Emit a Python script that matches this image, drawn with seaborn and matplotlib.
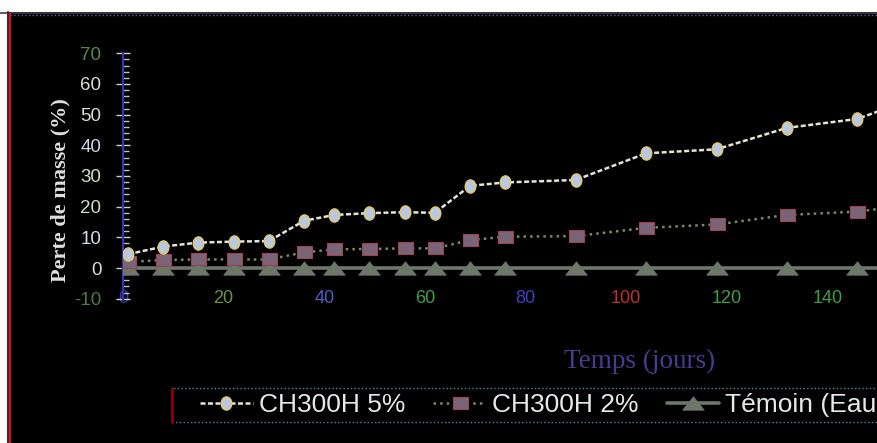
import matplotlib
matplotlib.use("Agg")
import matplotlib.pyplot as plt
import seaborn as sns
from matplotlib.path import Path
from matplotlib.transforms import Affine2D
from matplotlib.patches import Rectangle
from matplotlib.lines import Line2D
from matplotlib.ticker import MultipleLocator

# Data (jours, perte de masse en %)
jours = [1, 8, 15, 22, 29, 36, 42, 49, 56, 62, 69, 76, 90, 104, 118, 132, 146, 160]
ch300h_5 = [4.5, 7.0, 8.3, 8.6, 8.8, 15.4, 17.3, 17.9, 18.2, 18.0, 26.8, 27.9,
            28.7, 37.4, 38.7, 45.7, 48.6, 57.0]
ch300h_2 = [2.0, 2.6, 2.8, 2.8, 2.8, 5.1, 6.1, 6.2, 6.4, 6.4, 9.1, 10.2,
            10.4, 13.1, 14.2, 17.3, 18.4, 21.2]
temoin = [0.0, 0.0, 0.0, 0.0, 0.0, 0.0, 0.0, 0.0, 0.0, 0.0, 0.0, 0.0,
          0.0, 0.0, 0.0, 0.0, 0.0, 0.0]

series_labels = ["CH300H 5%", "CH300H 2%", "Témoin (Eau)"]
x_ticks = [0, 20, 40, 60, 80, 100, 120, 140]
y_ticks = [-10, 0, 10, 20, 30, 40, 50, 60, 70]

sns.set_theme(style="dark")
plt.rcParams["font.family"] = ["Liberation Sans", "DejaVu Sans"]
plt.rcParams["axes.unicode_minus"] = False

W, H = 877, 443
fig = plt.figure(figsize=(W / 100, H / 100), dpi=100, facecolor="black")


def fx(px):
    return px / W


def fy(py):
    return 1 - py / H


# axes: x=0 at px 123, 5.03 px/day ; y from -10 (px 298.7) to 70 (px 53.3)
ax = fig.add_axes([fx(123), fy(298.7), 180 * 5.03 / W, (298.7 - 53.3) / H])
ax.set_facecolor("black")

# markers
ellipse = Path.unit_circle().transformed(Affine2D().scale(0.8, 1.0))
rect = Path([(-1, -0.8), (1, -0.8), (1, 0.8), (-1, 0.8), (-1, -0.8)],
            [Path.MOVETO, Path.LINETO, Path.LINETO, Path.LINETO, Path.CLOSEPOLY])
tri = Path([(0, 0.62), (-1, -0.62), (1, -0.62), (0, 0.62)],
           [Path.MOVETO, Path.LINETO, Path.LINETO, Path.CLOSEPOLY])

sns.lineplot(x=jours, y=temoin, ax=ax, color="#6c786a", lw=2.6,
             marker=tri, ms=15.5, mfc="#6a7a64", mec="#7a6a80", mew=0.6,
             label=series_labels[2], zorder=3)
sns.lineplot(x=jours, y=ch300h_2, ax=ax, color="#7a8a6a", lw=1.8, ls=":",
             marker=rect, ms=10.8, mfc="#7a6478", mec="#a04050", mew=0.8,
             label=series_labels[1], zorder=4)
sns.lineplot(x=jours, y=ch300h_5, ax=ax, color="#e4e4d8", lw=1.8, ls=(0, (2, 1)),
             marker=ellipse, ms=9.5, mfc="#b8c8e0", mec="#e8c860", mew=1.0,
             label=series_labels[0], zorder=5)

if ax.get_legend() is not None:
    ax.get_legend().remove()

ax.set_xlim(0, 180)
ax.set_ylim(-10, 70)
ax.set_xlabel("")
ax.set_ylabel("")
ax.grid(False)

for side in ["top", "right", "bottom"]:
    ax.spines[side].set_visible(False)
ax.spines["left"].set_color("#3434b4")
ax.spines["left"].set_linewidth(1.6)

ax.set_yticks(y_ticks, labels=[str(v) for v in y_ticks])
ax.yaxis.set_minor_locator(MultipleLocator(2))
ax.tick_params(axis="y", which="major", left=True, direction="inout", length=10,
               width=1, color="#d0d0d0", pad=10.5, labelsize=13.5)
ax.tick_params(axis="y", which="minor", left=True, direction="in", length=4.3,
               width=1, color="#c0c0c0")
ax.set_xticks(x_ticks, labels=[str(v) for v in x_ticks])
ax.tick_params(axis="x", bottom=False, length=0, pad=0, labelsize=13)

y_colors = ["#4a7a4a", "#dcdcd4", "#d4dce8", "#cce0c4", "#d0e4c4",
            "#d0d4ec", "#dcdcd4", "#dcdcd4", "#5a8a3a"]
for lbl, c in zip(ax.get_yticklabels(), y_colors):
    lbl.set_color(c)
x_colors = ["#3a3aa8", "#6a9040", "#5060c0", "#40a040", "#4040c0",
            "#c03030", "#40a040", "#40a040"]
for lbl, c in zip(ax.get_xticklabels(), x_colors):
    lbl.set_color(c)
    lbl.set_va("center")

# axis titles
fig.text(fx(60), fy(190), "Perte de masse (%)", rotation=90, ha="center",
         va="center", family="Liberation Serif", fontweight="bold",
         fontsize=16, color="#e0e0e0")
fig.text(fx(640), fy(361), "Temps (jours)", ha="center", va="center",
         family="Liberation Serif", fontsize=19.5, color="#4a3a90")

# legend box
fig.patches.append(Rectangle((fx(172), fy(422)), fx(900 - 172), 34 / H,
                             transform=fig.transFigure, fill=False, ls=":",
                             ec="#4a8a9a", lw=1.0))
fig.lines.append(Line2D([fx(172), fx(172)], [fy(422), fy(388)],
                        transform=fig.transFigure, color="#900000", lw=2))
handles, labels = ax.get_legend_handles_labels()
order = [labels.index(s) for s in series_labels]
fig.legend([handles[i] for i in order], [labels[i] for i in order],
           loc="center left", bbox_to_anchor=(fx(200), fy(405)), ncol=3,
           frameon=False, fontsize=19, handlelength=2.0, handletextpad=0.23,
           columnspacing=1.06, borderpad=0, borderaxespad=0,
           labelcolor="#e8e8e8")

# window frame edges
fig.patches.append(Rectangle((0, fy(12)), 1, 12 / H, transform=fig.transFigure,
                             fc="white", ec="none"))
fig.patches.append(Rectangle((0, 0), fx(7), 1, transform=fig.transFigure,
                             fc="white", ec="none"))
fig.lines.append(Line2D([0, 1], [fy(12.5), fy(12.5)], transform=fig.transFigure,
                        color="#404040", lw=1.2))
fig.lines.append(Line2D([fx(10), 1], [fy(14.5), fy(14.5)], transform=fig.transFigure,
                        color="#6060c0", lw=1, ls=":"))
fig.lines.append(Line2D([fx(7.5), fx(7.5)], [0, fy(12)], transform=fig.transFigure,
                        color="#303030", lw=1.5))
fig.lines.append(Line2D([fx(10), fx(10)], [0, fy(14)], transform=fig.transFigure,
                        color="#e01010", lw=1.5))

fig.savefig("out.png", dpi=100, facecolor="black")
